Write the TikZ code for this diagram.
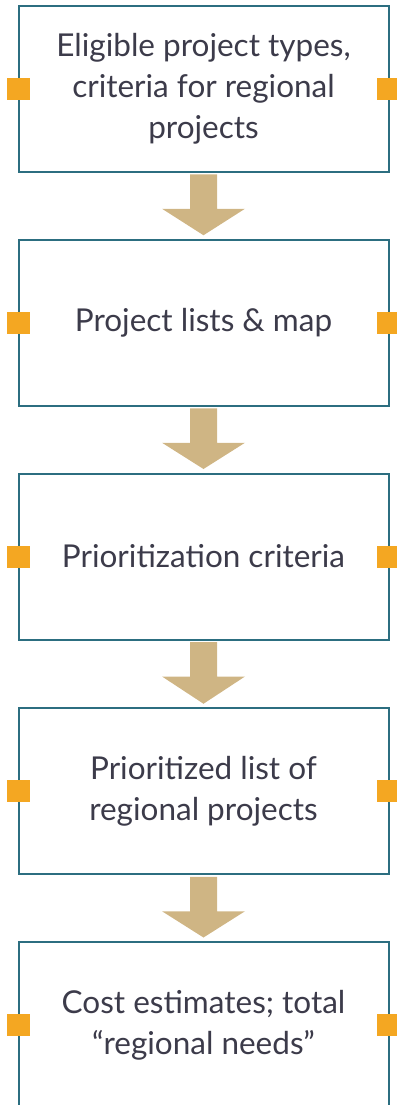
\documentclass[tikz,border=0pt]{standalone}
\usepackage{fontspec}
\setmainfont{Lato}
\usetikzlibrary{calc}
\definecolor{boxline}{HTML}{2C6E80}
\definecolor{tanarrow}{HTML}{CFB584}
\definecolor{orangesq}{HTML}{F4A722}
\definecolor{txt}{HTML}{3C3B4A}
\tikzset{
  stagebox/.style={draw=boxline, line width=2pt, fill=white, outer sep=0pt,
    minimum width=370pt, minimum height=166pt, inner sep=0pt,
    align=center, text=txt, font=\fontsize{31.5}{41}\selectfont},
  marker/.style={fill=orangesq, minimum width=23pt, minimum height=22pt, inner sep=0pt, outer sep=0pt},
  flowarrow/.style={fill=tanarrow, draw=none}
}
\newcommand{\flowarrowpath}[2]{%
  \fill[flowarrow] ($(#1.south)+(-13.5,2.5)$) -- ($(#1.south)+(13.5,2.5)$)
    -- ($(#1.south)+(13.5,37)$) -- ($(#1.south)+(41.5,37)$)
    -- ($(#2.north)+(0,-4.5)$)
    -- ($(#1.south)+(-41.5,37)$) -- ($(#1.south)+(-13.5,37)$) -- cycle;}
\begin{document}
\begin{tikzpicture}[x=1pt,y=-1pt]
\useasboundingbox (0,0) rectangle (396,1105);
\node[stagebox] (b1) at (203.5,88.75) {Eligible project types,\\criteria for regional\\projects};
\node[stagebox] (b2) at (203.5,322.75) {Project lists \& map};
\node[stagebox] (b3) at (203.5,556.5) {Prioritization criteria};
\node[stagebox] (b4) at (203.5,791.25) {Prioritized list of\\regional projects};
\node[stagebox] (b5) at (203.5,1025) {Cost estimates; total\\“regional needs”};
\foreach \b in {b1,b2,b3,b4,b5}{
  \node[marker] (\b L) at (\b.west) {};
  \node[marker] (\b R) at (\b.east) {};
}
\flowarrowpath{b1}{b2}
\flowarrowpath{b2}{b3}
\flowarrowpath{b3}{b4}
\flowarrowpath{b4}{b5}
\end{tikzpicture}
\end{document}
